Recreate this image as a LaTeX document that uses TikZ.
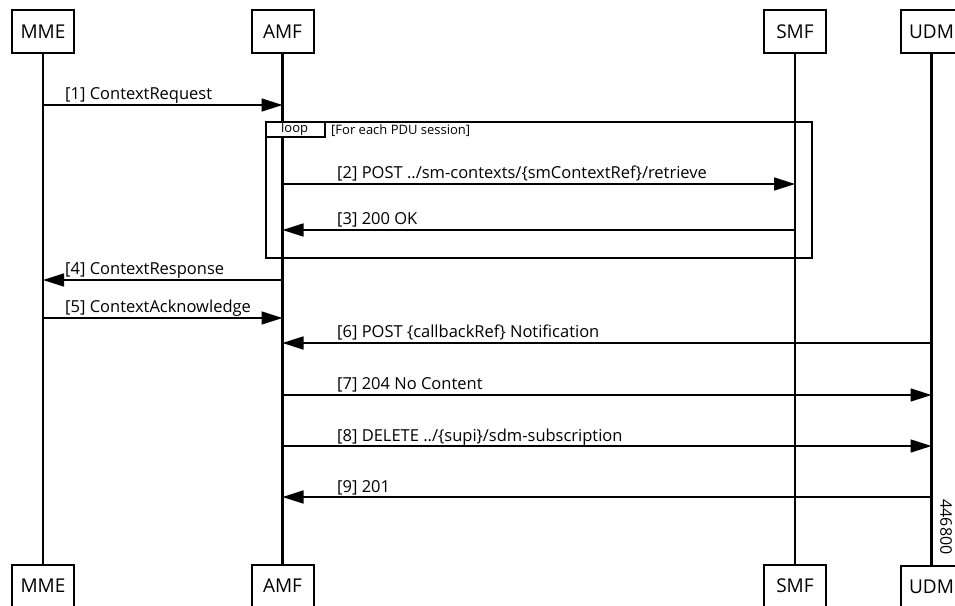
\documentclass[tikz,border=0pt]{standalone}
\usepackage{fontspec}
\setmainfont{Open Sans}
\usetikzlibrary{arrows.meta}
\begin{document}
\begin{tikzpicture}[x=1pt,y=-1pt,
  entity/.style={draw,line width=2pt,minimum width=62pt,minimum height=43pt,inner sep=0pt,font=\fontsize{19}{19}\selectfont},
  lifeline/.style={line width=2.5pt},
  msg/.style={line width=1.6pt,-{Triangle[length=21pt,width=13pt]}},
  msglabel/.style={anchor=base west,inner sep=0pt,font=\fontsize{16.5}{16.5}\selectfont},
  frame/.style={line width=1.6pt}]
\useasboundingbox (0,0) rectangle (955,605);
% participants
\node[entity] (mmeTop) at (43,31.5) {MME};
\node[entity] (amfTop) at (282.5,31.5) {AMF};
\node[entity] (smfTop) at (795,31.5) {SMF};
\node[entity] (udmTop) at (931.5,31.5) {UDM};
\node[entity] (mmeBot) at (43,586) {MME};
\node[entity] (amfBot) at (282.5,586) {AMF};
\node[entity] (smfBot) at (795,586) {SMF};
\node[entity] (udmBot) at (931.5,587) {UDM};
\draw[lifeline] (mmeTop) -- (mmeBot);
\draw[lifeline] (amfTop) -- (amfBot);
\draw[lifeline] (smfTop) -- (smfBot);
\draw[lifeline] (udmTop) -- (udmBot);
% loop frame
\draw[frame] (266,122) rectangle (812,258);
\filldraw[frame,fill=white] (266,122) rectangle (325,137);
\node[anchor=west,inner sep=0pt,font=\fontsize{13}{13}\selectfont] (loopTag) at (281,129) {loop};
\node[anchor=west,inner sep=0pt,font=\fontsize{13}{13}\selectfont] (loopCond) at (331,130.5) {[For each PDU session]};
% message ends on the lifelines
\coordinate (mme1) at (mmeTop |- 0,105);
\coordinate (amf1) at (amfTop |- 0,105);
\coordinate (amf2) at (amfTop |- 0,184);
\coordinate (smf2) at (smfTop |- 0,184);
\coordinate (amf3) at (amfTop |- 0,230);
\coordinate (smf3) at (smfTop |- 0,230);
\coordinate (mme4) at (mmeTop |- 0,280);
\coordinate (amf4) at (amfTop |- 0,280);
\coordinate (mme5) at (mmeTop |- 0,318);
\coordinate (amf5) at (amfTop |- 0,318);
\coordinate (amf6) at (amfTop |- 0,343);
\coordinate (udm6) at (udmTop |- 0,343);
\coordinate (amf7) at (amfTop |- 0,395);
\coordinate (udm7) at (udmTop |- 0,395);
\coordinate (amf8) at (amfTop |- 0,446);
\coordinate (udm8) at (udmTop |- 0,446);
\coordinate (amf9) at (amfTop |- 0,497);
\coordinate (udm9) at (udmTop |- 0,497);
% messages
\draw[msg] (mme1) -- (amf1);
\node[msglabel] (lbl1) at (65,99.5) {[1] ContextRequest};
\draw[msg] (amf2) -- (smf2);
\node[msglabel] (lbl2) at (337,178.5) {[2] POST ../sm-contexts/\{smContextRef\}/retrieve};
\draw[msg] (smf3) -- (amf3);
\node[msglabel] (lbl3) at (337,224.5) {[3] 200 OK};
\draw[msg] (amf4) -- (mme4);
\node[msglabel] (lbl4) at (65,274.5) {[4] ContextResponse};
\draw[msg] (mme5) -- (amf5);
\node[msglabel] (lbl5) at (65,312.5) {[5] ContextAcknowledge};
\draw[msg] (udm6) -- (amf6);
\node[msglabel] (lbl6) at (337,337.5) {[6] POST \{callbackRef\} Notification};
\draw[msg] (amf7) -- (udm7);
\node[msglabel] (lbl7) at (337,389.5) {[7] 204 No Content};
\draw[msg] (amf8) -- (udm8);
\node[msglabel] (lbl8) at (337,441) {[8] DELETE ../\{supi\}/sdm-subscription};
\draw[msg] (udm9) -- (amf9);
\node[msglabel] (lbl9) at (337,492) {[9] 201};
\node[rotate=-90,inner sep=0pt,font=\fontsize{16}{16}\selectfont] (figId) at (946,527) {446800};
\end{tikzpicture}
\end{document}
